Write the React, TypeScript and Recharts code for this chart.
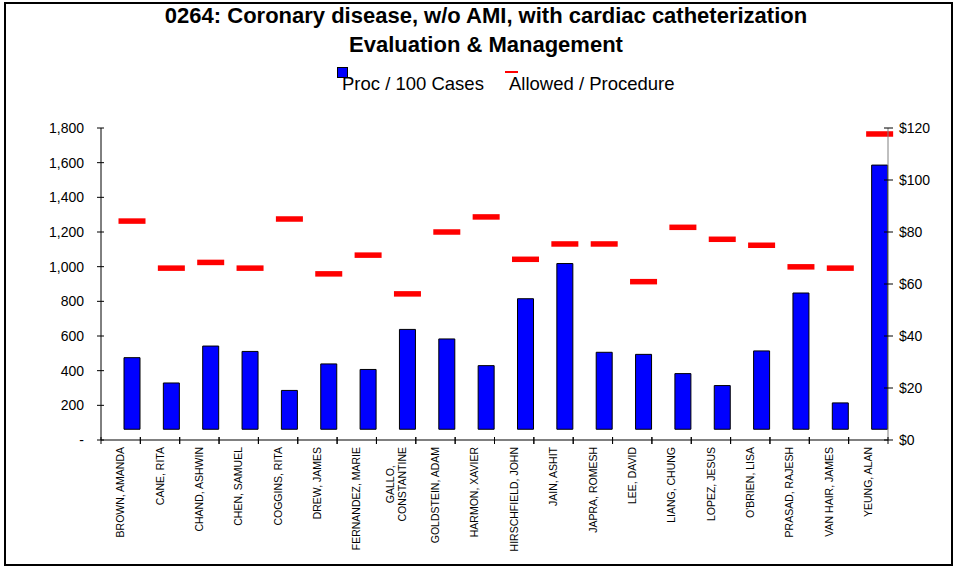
import { ComposedChart, Bar, XAxis, YAxis } from 'recharts'

const names = [
  'BROWN, AMANDA', 'CANE, RITA', 'CHAND, ASHWIN', 'CHEN, SAMUEL', 'COGGINS, RITA',
  'DREW, JAMES', 'FERNANDEZ, MARIE', 'GALLO, CONSTANTINE', 'GOLDSTEIN, ADAM', 'HARMON, XAVIER',
  'HIRSCHFIELD, JOHN', 'JAIN, ASHIT', 'JAPRA, ROMESH', 'LEE, DAVID', 'LIANG, CHUNG',
  'LOPEZ, JESUS', "O'BRIEN, LISA", 'PRASAD, RAJESH', 'VAN HAIR, JAMES', 'YEUNG, ALAN',
]
const procPer100Cases = [475, 329, 542, 511, 286, 439, 407, 638, 583, 429, 815, 1018, 506, 494, 383, 314, 514, 848, 214, 1586]
const allowedPerProc = [84.2, 66.1, 68.3, 66.1, 85.0, 63.9, 71.1, 56.2, 80.0, 85.8, 69.5, 75.4, 75.4, 60.9, 81.8, 77.2, 74.9, 66.6, 66.1, 117.7]
// bars in the original float a little above zero
const barBase = 62
const leftTicks = [0, 200, 400, 600, 800, 1000, 1200, 1400, 1600, 1800]
const rightTicks = [0, 20, 40, 60, 80, 100, 120]

const data = names.map((name, i) => ({
  name,
  proc: procPer100Cases[i],
  allowed: allowedPerProc[i],
  gap: 0,
}))

const FONT = '"Liberation Sans", Arial, Helvetica, sans-serif'
const PLOT_LEFT = 101
const PLOT_RIGHT = 888
const BAND = (PLOT_RIGHT - PLOT_LEFT) / names.length

function LeftTick({ x, y, payload }: any) {
  const v = payload.value as number
  return (
    <g>
      <line x1={x + 13} x2={x + 20} y1={y} y2={y} stroke="#000" />
      <text x={x} y={y} dy="0.35em" textAnchor="end" fontSize={14} fontFamily={FONT} fill="#000">
        {v === 0 ? '-' : v.toLocaleString('en-US')}
      </text>
    </g>
  )
}

function RightTick({ x, y, payload }: any) {
  return (
    <g>
      <line x1={x - 15} x2={x - 6} y1={y} y2={y} stroke="#000" />
      <text x={x} y={y} dy="0.35em" textAnchor="start" fontSize={14} fontFamily={FONT} fill="#000">
        ${payload.value}
      </text>
    </g>
  )
}

let ctx: CanvasRenderingContext2D | null = null
function measure(s: string, size: number) {
  if (!ctx) ctx = document.createElement('canvas').getContext('2d')
  if (!ctx) return s.length * size * 0.65
  ctx.font = `${size}px ${FONT}`
  return ctx.measureText(s).width
}

function NameTick({ x, y, payload }: any) {
  const label: string = payload.value
  const size = 10.5
  const axisY = y - 7
  const lines = label.length > 17 ? label.split(', ').map((s, i, a) => (i < a.length - 1 ? s + ',' : s)) : [label]
  const ticks = (
    <>
      <line x1={x - BAND / 2} x2={x - BAND / 2} y1={axisY - 3} y2={axisY + 4} stroke="#000" />
      <line x1={x + BAND / 2} x2={x + BAND / 2} y1={axisY - 3} y2={axisY + 4} stroke="#000" />
    </>
  )
  if (lines.length === 1) {
    return (
      <g>
        {ticks}
        <text x={x} y={y} dy="0.35em" textAnchor="end" transform={`rotate(-90, ${x}, ${y})`} fontSize={size} fontFamily={FONT} fill="#000">
          {label}
        </text>
      </g>
    )
  }
  const maxW = Math.max(...lines.map(l => measure(l, size)))
  const cy = y + maxW / 2
  return (
    <g>
      {ticks}
      {lines.map((l, i) => {
        const lx = x + (i - (lines.length - 1) / 2) * 12
        return (
          <text key={i} x={lx} y={cy} dy="0.35em" textAnchor="middle" transform={`rotate(-90, ${lx}, ${cy})`} fontSize={size} fontFamily={FONT} fill="#000">
            {l}
          </text>
        )
      })}
    </g>
  )
}

function AllowedMark({ x, y, width }: any) {
  return <rect x={x + width / 2 - 13.5} y={y - 2.75} width={27} height={5.5} fill="#ff0000" />
}

export default function App() {
  return (
    <div style={{ position: 'absolute', left: 0, top: 0, width: 959, height: 567, background: '#fff' }}>
      <div style={{ position: 'absolute', left: 4, top: 2, width: 945, height: 560, border: '2px solid #000' }} />
      <svg width={959} height={110} style={{ position: 'absolute', left: 0, top: 0 }}>
        <text x={486} y={23} textAnchor="middle" fontSize={22} fontWeight="bold" fontFamily={FONT}>
          0264: Coronary disease, w/o AMI, with cardiac catheterization
        </text>
        <text x={486} y={52} textAnchor="middle" fontSize={22} fontWeight="bold" fontFamily={FONT}>
          Evaluation &amp; Management
        </text>
        <rect x={337.5} y={67.5} width={10} height={10} fill="#0000ff" stroke="#000" />
        <text x={342} y={90} fontSize={18.5} fontFamily={FONT}>Proc / 100 Cases</text>
        <rect x={505} y={71} width={13} height={2} fill="#ff0000" />
        <text x={509} y={90} fontSize={18.5} fontFamily={FONT}>Allowed / Procedure</text>
      </svg>
      <div style={{ position: 'absolute', left: 0, top: 0 }}>
        <ComposedChart
          width={959}
          height={567}
          data={data}
          margin={{ top: 128, right: 0, bottom: 1, left: 0 }}
          barGap={0}
        >
          <XAxis
            dataKey="name"
            interval={0}
            height={126}
            tickSize={4}
            tickMargin={3}
            tickLine={false}
            axisLine={{ stroke: '#000' }}
            tick={<NameTick />}
          />
          <XAxis xAxisId="b" dataKey="name" hide />
          <YAxis
            yAxisId="left"
            orientation="left"
            width={PLOT_LEFT}
            domain={[0, 1800]}
            ticks={leftTicks}
            interval={0}
            tickSize={8}
            tickMargin={9}
            tickLine={false}
            axisLine={{ stroke: '#000' }}
            tick={<LeftTick />}
          />
          <YAxis
            yAxisId="right"
            orientation="right"
            width={959 - PLOT_RIGHT}
            domain={[0, 120]}
            ticks={rightTicks}
            interval={0}
            tickSize={4}
            tickMargin={7}
            tickLine={false}
            axisLine={{ stroke: '#808080' }}
            tick={<RightTick />}
          />
          <Bar yAxisId="left" dataKey="gap" barSize={23} fill="none" isAnimationActive={false} />
          <Bar
            yAxisId="left"
            dataKey={(d: any) => [barBase, d.proc]}
            name="Proc / 100 Cases"
            barSize={16}
            fill="#0000ff"
            stroke="#000"
            strokeWidth={1}
            isAnimationActive={false}
          />
          <Bar xAxisId="b" yAxisId="right" dataKey="gap" barSize={23} fill="none" isAnimationActive={false} />
          <Bar
            xAxisId="b"
            yAxisId="right"
            dataKey="allowed"
            name="Allowed / Procedure"
            barSize={16}
            shape={<AllowedMark />}
            isAnimationActive={false}
          />
        </ComposedChart>
      </div>
    </div>
  )
}
